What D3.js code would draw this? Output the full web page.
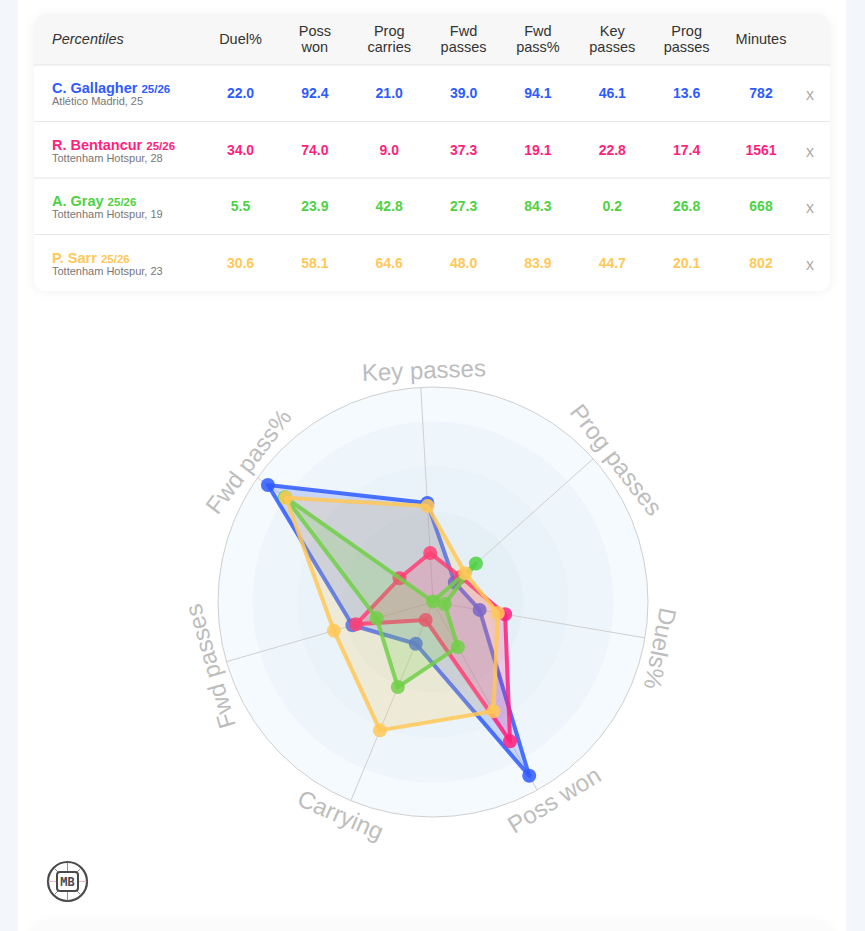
<!DOCTYPE html>
<html>
<head>
<meta charset="utf-8">
<script src="https://cdn.jsdelivr.net/npm/d3@7/dist/d3.min.js"></script>
<style>
  html, body { margin: 0; padding: 0; background: #f3f6fb; overflow: hidden; }
  svg { display: block; font-family: "Liberation Sans", Arial, sans-serif; }
</style>
</head>
<body>
<svg id="chart" width="865" height="931"></svg>
<script>
// table columns
const columns = ['Duel%', 'Poss won', 'Prog carries', 'Fwd passes', 'Fwd pass%', 'Key passes', 'Prog passes', 'Minutes'];

// players
const names = ['C. Gallagher', 'R. Bentancur', 'A. Gray', 'P. Sarr'];
const seasons = ['25/26', '25/26', '25/26', '25/26'];
const clubs = ['Atlético Madrid, 25', 'Tottenham Hotspur, 28', 'Tottenham Hotspur, 19', 'Tottenham Hotspur, 23'];
const colors = ['#2e5bff', '#ff1f7d', '#4fd145', '#ffc857'];

// percentiles, same order as the radar axes
const gallagher = [22.0, 92.4, 21.0, 39.0, 94.1, 46.1, 13.6];
const bentancur = [34.0, 74.0, 9.0, 37.3, 19.1, 22.8, 17.4];
const gray = [5.5, 23.9, 42.8, 27.3, 84.3, 0.2, 26.8];
const sarr = [30.6, 58.1, 64.6, 48.0, 83.9, 44.7, 20.1];
const minutes = [782, 1561, 668, 802];
const allValues = [gallagher, bentancur, gray, sarr];

// radar
const axisLabels = ['Duels%', 'Poss won', 'Carrying', 'Fwd passes', 'Fwd pass%', 'Key passes', 'Prog passes'];
const ringLevels = [100, 84, 63, 42];
const ringColors = ['#f5fafe', '#eff6fb', '#e9f3f9', '#e4f0f6'];

const svg = d3.select('#chart');

// page panel
svg.append('rect').attr('x', 18).attr('y', -20).attr('width', 828).attr('height', 1000).attr('rx', 14).attr('fill', '#fff');

const defs = svg.append('defs');
const shadow = defs.append('filter').attr('id', 'cardShadow')
  .attr('x', '-5%').attr('y', '-10%').attr('width', '110%').attr('height', '120%');
shadow.append('feDropShadow').attr('dx', 0).attr('dy', 1).attr('stdDeviation', 5)
  .attr('flood-color', '#000').attr('flood-opacity', 0.06);

// table card
const card = { x: 34, y: 14, w: 796, h: 277, head: 51 };
const rowH = (card.h - card.head) / names.length;
defs.append('clipPath').attr('id', 'cardClip').append('rect')
  .attr('x', card.x).attr('y', card.y).attr('width', card.w).attr('height', card.h).attr('rx', 12);

svg.append('rect').attr('x', card.x).attr('y', card.y).attr('width', card.w).attr('height', card.h)
  .attr('rx', 12).attr('fill', '#fff').attr('filter', 'url(#cardShadow)');

const table = svg.append('g').attr('clip-path', 'url(#cardClip)');
table.append('rect').attr('x', card.x).attr('y', card.y).attr('width', card.w).attr('height', card.head).attr('fill', '#f7f7f7');

d3.range(names.length).forEach(i => {
  table.append('line')
    .attr('x1', card.x).attr('x2', card.x + card.w)
    .attr('y1', card.y + card.head + i * rowH).attr('y2', card.y + card.head + i * rowH)
    .attr('stroke', '#e6e6e6').attr('stroke-width', 1.2);
});

const colX = d3.scalePoint().domain(columns).range([240.5, 761]);

table.append('text').attr('x', 52).attr('y', 44).attr('font-size', 14.5).attr('font-style', 'italic')
  .attr('fill', '#333').text('Percentiles');

columns.forEach(c => {
  const words = c.split(' ');
  const t = table.append('text').attr('text-anchor', 'middle').attr('font-size', 14.5).attr('fill', '#333');
  words.forEach((w, i) => {
    t.append('tspan').attr('x', colX(c))
      .attr('y', words.length === 1 ? 44 : 36 + i * 16)
      .text(w);
  });
});

names.forEach((name, i) => {
  const top = card.y + card.head + i * rowH;
  const nameText = table.append('text').attr('x', 52).attr('y', top + 28).attr('fill', colors[i]).attr('font-weight', 700);
  nameText.append('tspan').attr('font-size', 14.5).text(name + ' ');
  nameText.append('tspan').attr('font-size', 11.5).text(seasons[i]);
  table.append('text').attr('x', 52).attr('y', top + 40).attr('font-size', 11).attr('fill', '#777').text(clubs[i]);

  allValues[i].concat([minutes[i]]).forEach((v, j) => {
    table.append('text').attr('x', colX(columns[j])).attr('y', top + 33)
      .attr('text-anchor', 'middle').attr('font-size', 14).attr('font-weight', 700)
      .attr('fill', colors[i])
      .text(j === columns.length - 1 ? v : v.toFixed(1));
  });

  table.append('text').attr('x', 810).attr('y', top + 35).attr('text-anchor', 'middle')
    .attr('font-size', 16).attr('fill', '#aaa').text('x');
});

// next card peeking in at the bottom
svg.append('rect').attr('x', card.x).attr('y', 922).attr('width', card.w).attr('height', 60)
  .attr('rx', 12).attr('fill', '#fbfbfb').attr('filter', 'url(#cardShadow)');

// radar
const cx = 433, cy = 602, R = 215;
const rScale = d3.scaleLinear().domain([0, 100]).range([0, R]);
const startDeg = 99.6;
const angle = d3.scaleLinear().domain([0, axisLabels.length]).range([startDeg, startDeg + 360]);
const toXY = (deg, r) => {
  const a = deg * Math.PI / 180;
  return [r * Math.sin(a), -r * Math.cos(a)];
};

const radar = svg.append('g').attr('transform', `translate(${cx},${cy})`);

ringLevels.forEach((lvl, i) => {
  radar.append('circle').attr('r', rScale(lvl)).attr('fill', ringColors[i])
    .attr('stroke', i === 0 ? '#cfcfcf' : 'none').attr('stroke-width', 1);
});

axisLabels.forEach((_, i) => {
  const p = toXY(angle(i), R);
  radar.append('line').attr('x1', 0).attr('y1', 0).attr('x2', p[0]).attr('y2', p[1])
    .attr('stroke', '#cfcfcf').attr('stroke-width', 1);
});

// labels, tops of the letters point out except on the two lowest axes
const labelNudge = [2, -2.5, 1, 0, 2, 1, 4];
axisLabels.forEach((label, i) => {
  const deg = angle(i);
  const p = toXY(deg + labelNudge[i], 232);
  const flip = deg > 120 && deg < 240;
  radar.append('text')
    .attr('transform', `translate(${p[0]},${p[1]}) rotate(${flip ? deg + labelNudge[i] - 180 : deg + labelNudge[i]})`)
    .attr('text-anchor', 'middle').attr('dy', '0.35em')
    .attr('font-size', 24).attr('fill', '#bdbdbd').text(label);
});

const line = d3.line();
allValues.forEach((vals, s) => {
  const pts = vals.map((v, i) => toXY(angle(i), rScale(v)));
  const g = radar.append('g');
  g.append('path').attr('d', line(pts) + 'Z')
    .attr('fill', colors[s]).attr('fill-opacity', 0.2)
    .attr('stroke', colors[s]).attr('stroke-width', 4).attr('stroke-linejoin', 'round').attr('stroke-opacity', 0.85);
  g.selectAll('circle').data(pts).join('circle')
    .attr('cx', d => d[0]).attr('cy', d => d[1]).attr('r', 7)
    .attr('fill', colors[s]).attr('fill-opacity', 0.85);
});

// logo
const logo = svg.append('g').attr('transform', 'translate(67.5,881.5)');
logo.append('circle').attr('r', 19.5).attr('fill', '#fff').attr('stroke', '#4a4a4a').attr('stroke-width', 2.2);
[[0, -19, 0, -9, '#7f8fe0'], [0, 9, 0, 19, '#7f8fe0'], [-19, 0, -11, 0, '#f0b0d0'], [11, 0, 19, 0, '#f0b0d0'],
 [-13, -13, -8, -8, '#888'], [13, -13, 8, -8, '#888'], [-13, 13, -8, 8, '#888'], [13, 13, 8, 8, '#888']].forEach(d => {
  logo.append('line').attr('x1', d[0]).attr('y1', d[1]).attr('x2', d[2]).attr('y2', d[3]).attr('stroke', d[4]).attr('stroke-width', 1);
});
logo.append('rect').attr('x', -10.5).attr('y', -9.5).attr('width', 21).attr('height', 19).attr('rx', 3)
  .attr('fill', '#fff').attr('stroke', '#4a4a4a').attr('stroke-width', 2);
logo.append('text').attr('text-anchor', 'middle').attr('y', 4.5).attr('font-size', 12).attr('font-weight', 700)
  .attr('font-family', '"DejaVu Sans Mono", monospace').attr('fill', '#4a4a4a').text('MB');
</script>
</body>
</html>
